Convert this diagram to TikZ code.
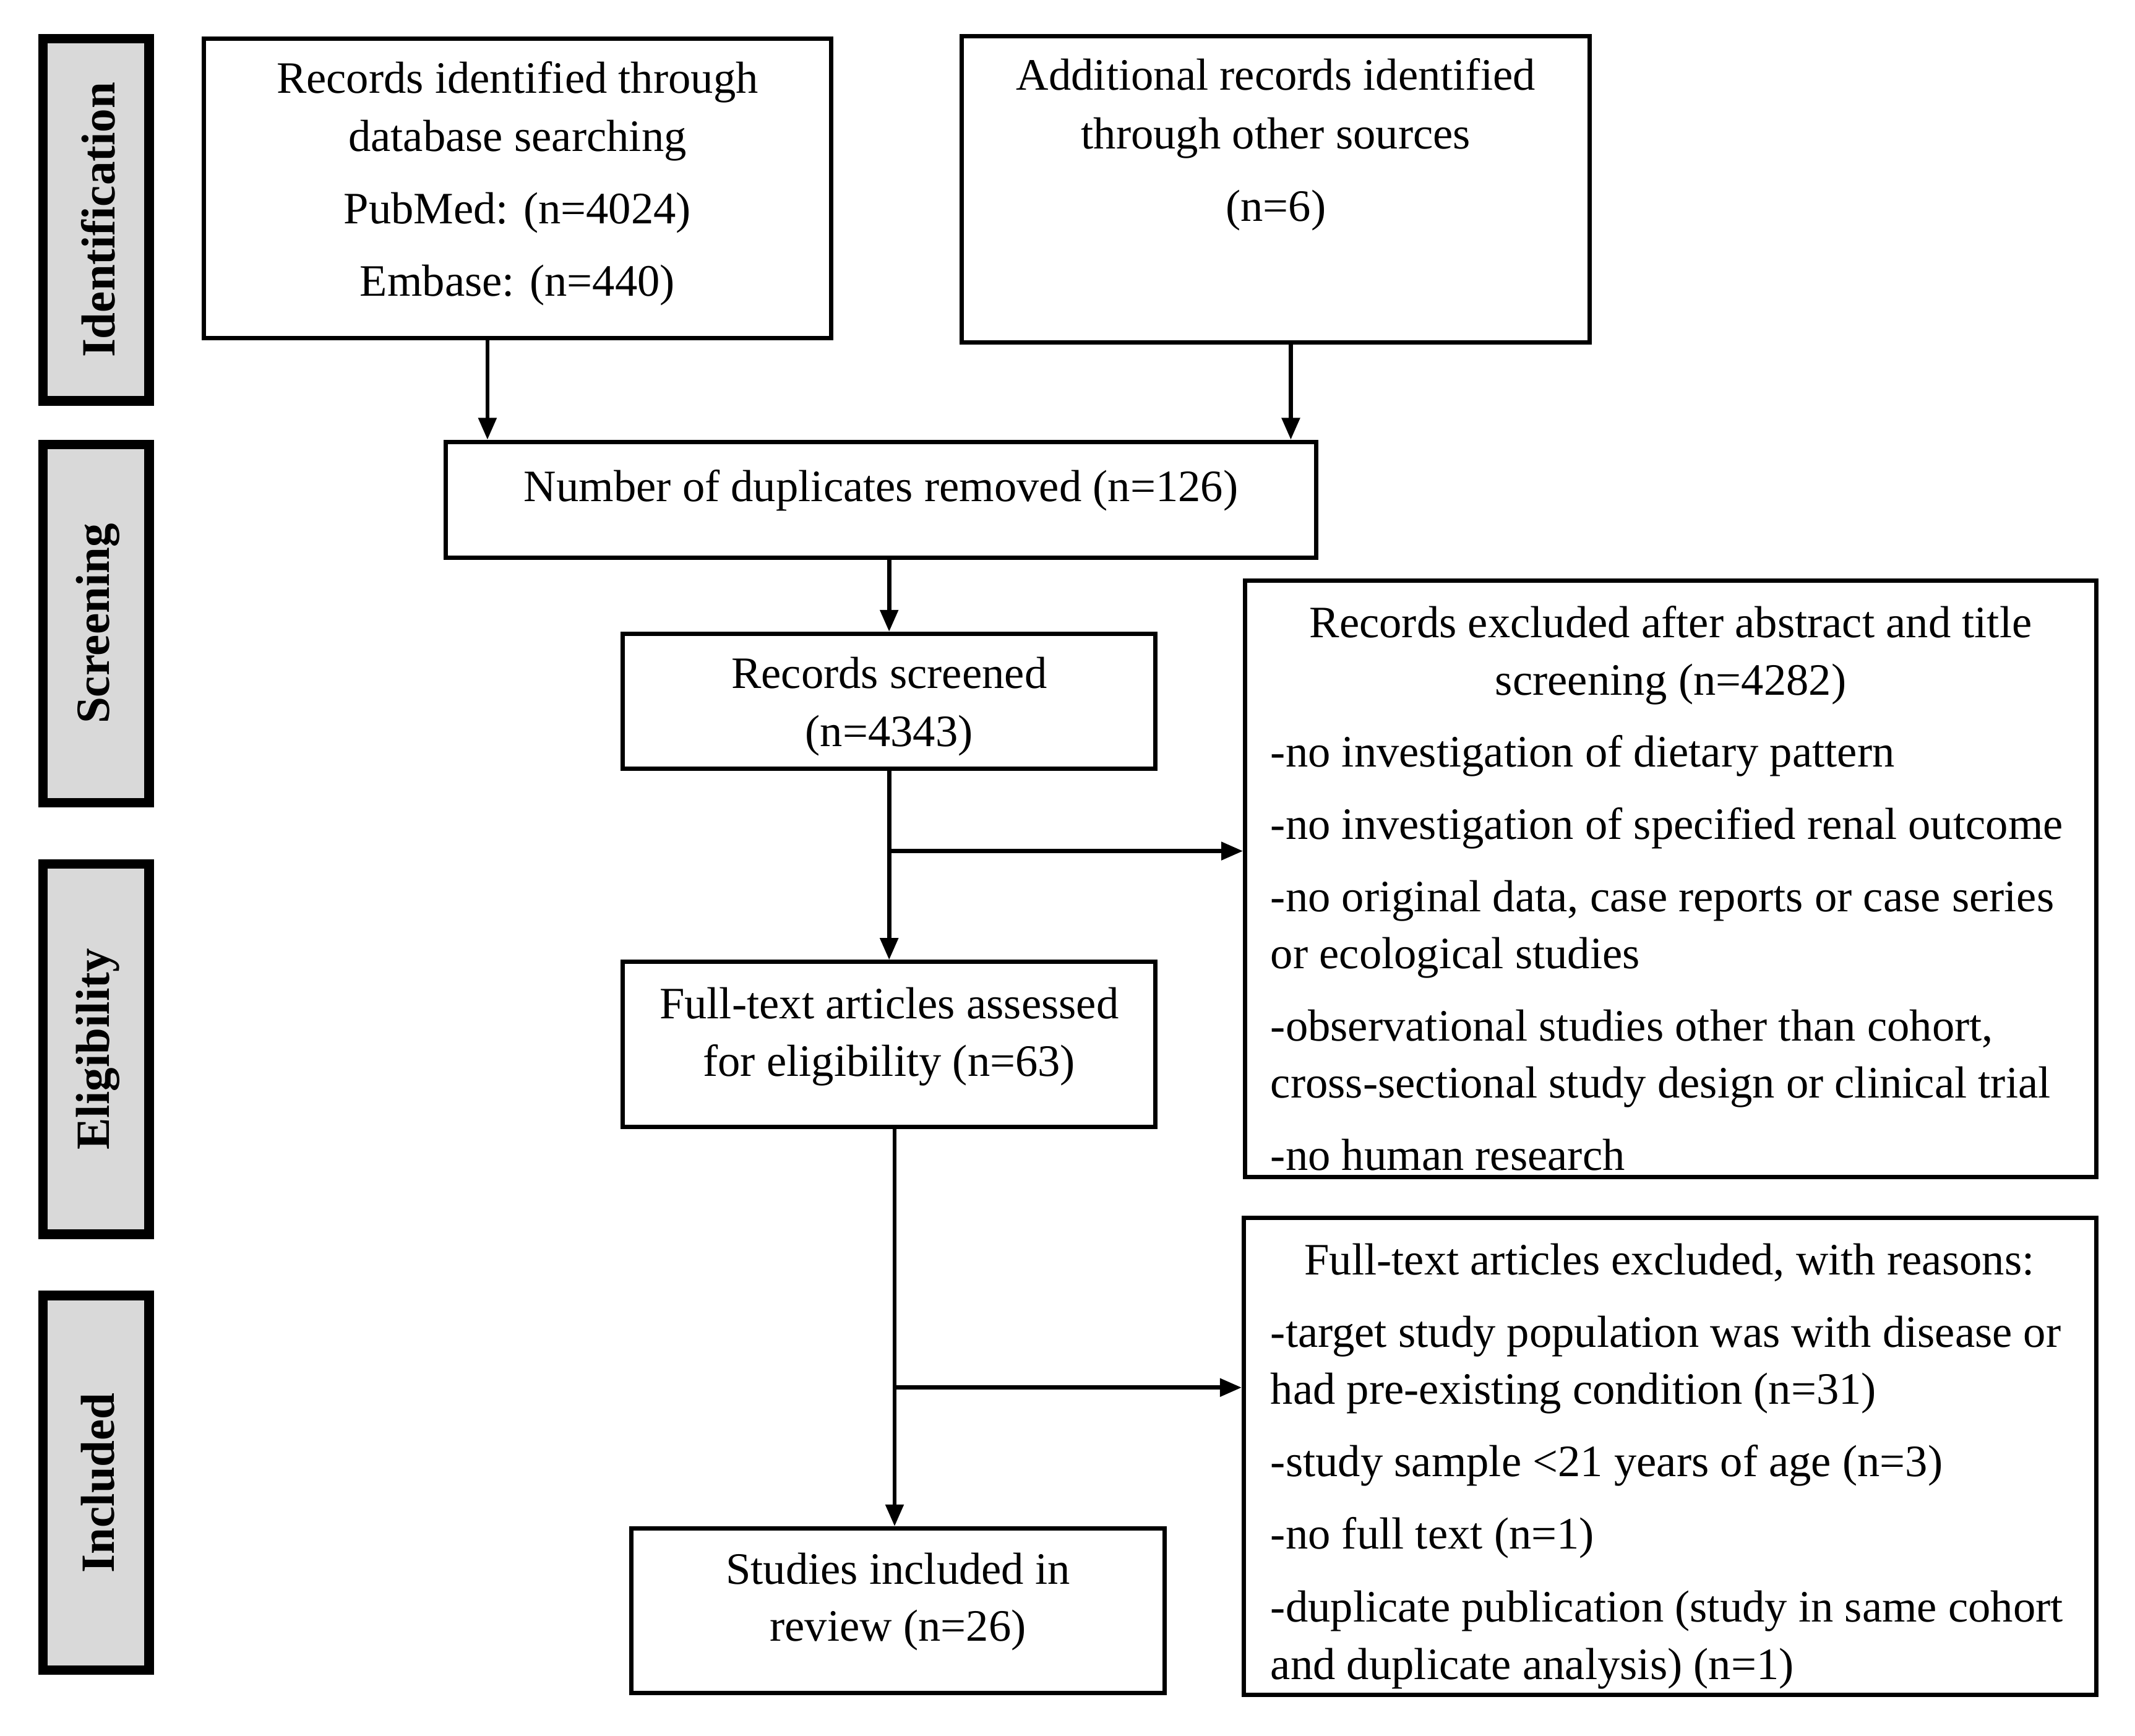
\documentclass[tikz,border=0pt]{standalone}
\usepackage{fontspec}
\setmainfont{Liberation Serif}
\usetikzlibrary{arrows.meta,calc}
\begin{document}
\begin{tikzpicture}[x=1pt,y=-1pt,
  box/.style={draw=black,line width=3.2pt,fill=white,inner sep=0pt,rectangle},
  side/.style={draw=black,line width=7pt,fill=black!15,inner sep=0pt,rectangle},
  sidetxt/.style={inner sep=0pt,rotate=90,font=\fontsize{35}{40}\selectfont\bfseries},
  arr/.style={line width=3pt,-{Triangle[length=16pt,width=13pt]}},
  txt/.style={inner sep=0pt,anchor=mid,yshift=-9pt,font=\fontsize{33}{40}\selectfont},
  ltxt/.style={txt,anchor=mid west}]
\useasboundingbox (0,0) rectangle (1568,1274.5);
% side labels
\node[side,minimum width=78pt,minimum height=266pt] (sI) at (70.5,161.5) {};
\node[sidetxt] (sIt) at (72,161.5) {Identification};
\node[side,minimum width=78pt,minimum height=263pt] (sS) at (70.5,458) {};
\node[sidetxt] (sSt) at (72,458) {Screening};
\node[side,minimum width=78pt,minimum height=272pt] (sE) at (70.5,770.5) {};
\node[sidetxt] (sEt) at (72,770.5) {Eligibility};
\node[side,minimum width=78pt,minimum height=275pt] (sN) at (70.5,1089) {};
\node[sidetxt] (sNt) at (72,1089) {Included};
% boxes
\node[box,minimum width=461pt,minimum height=220pt] (b1) at (380,138.5) {};
\node[box,minimum width=461pt,minimum height=225pt] (b2) at (937,139) {};
\node[box,minimum width=639pt,minimum height=85pt] (b3) at (647,367) {};
\node[box,minimum width=391pt,minimum height=99pt] (b4) at (653,515) {};
\node[box,minimum width=625pt,minimum height=438pt] (b5) at (1227,645.5) {};
\node[box,minimum width=391pt,minimum height=121pt] (b6) at (653,767) {};
\node[box,minimum width=626pt,minimum height=350pt] (b7) at (1226.5,1069.5) {};
\node[box,minimum width=392pt,minimum height=121pt] (b8) at (659.5,1183) {};
% texts
\node[txt] (t1a) at (380,57) {Records identified through};
\node[txt] (t1b) at (380,100) {database searching};
\node[txt] (t1c) at (380,153) {PubMed: (n=4024)};
\node[txt] (t1d) at (380,206) {Embase: (n=440)};
\node[txt] (t2a) at (937,55) {Additional records identified};
\node[txt] (t2b) at (937,98) {through other sources};
\node[txt] (t2c) at (937,151) {(n=6)};
\node[txt] (t3a) at (647,357) {Number of duplicates removed (n=126)};
\node[txt] (t4a) at (653,494) {Records screened};
\node[txt] (t4b) at (653,537) {(n=4343)};
\node[txt] (t5a) at (1227,457) {Records excluded after abstract and title};
\node[txt] (t5b) at (1227,499) {screening (n=4282)};
\node[ltxt] (t5c) at (933,552) {-no investigation of dietary pattern};
\node[ltxt] (t5d) at (933,605) {-no investigation of specified renal outcome};
\node[ltxt] (t5e) at (933,658) {-no original data, case reports or case series};
\node[ltxt] (t5f) at (933,700) {or ecological studies};
\node[ltxt] (t5g) at (933,753) {-observational studies other than cohort,};
\node[ltxt] (t5h) at (933,795) {cross-sectional study design or clinical trial};
\node[ltxt] (t5i) at (933,848) {-no human research};
\node[txt] (t6a) at (653,737) {Full-text articles assessed};
\node[txt] (t6b) at (653,779) {for eligibility (n=63)};
\node[txt] (t7a) at (1226,925) {Full-text articles excluded, with reasons:};
\node[ltxt] (t7b) at (933,978) {-target study population was with disease or};
\node[ltxt] (t7c) at (933,1020) {had pre-existing condition (n=31)};
\node[ltxt] (t7d) at (933,1073) {-study sample <21 years of age (n=3)};
\node[ltxt] (t7e) at (933,1126) {-no full text (n=1)};
\node[ltxt] (t7f) at (933,1180) {-duplicate publication (study in same cohort};
\node[ltxt] (t7g) at (933,1222) {and duplicate analysis) (n=1)};
\node[txt] (t8a) at (659.5,1152) {Studies included in};
\node[txt] (t8b) at (659.5,1194) {review (n=26)};
% connectors
\coordinate (c1) at ([xshift=-22pt]b1.south);
\coordinate (c2) at ([xshift=11pt]b2.south);
\draw[arr] (c1) -- (c1 |- b3.north);
\draw[arr] (c2) -- (c2 |- b3.north);
\draw[arr] (b4.north |- b3.south) -- (b4.north);
\draw[arr] (b4.south) -- (b6.north);
\coordinate (j1) at (b4.south |- 0,625);
\draw[arr] (j1) -- (j1 -| b5.west);
\coordinate (c6) at ([xshift=4pt]b6.south);
\draw[arr] (c6) -- (c6 |- b8.north);
\coordinate (j2) at (c6 |- 0,1019);
\draw[arr] (j2) -- (j2 -| b7.west);
\end{tikzpicture}
\end{document}
